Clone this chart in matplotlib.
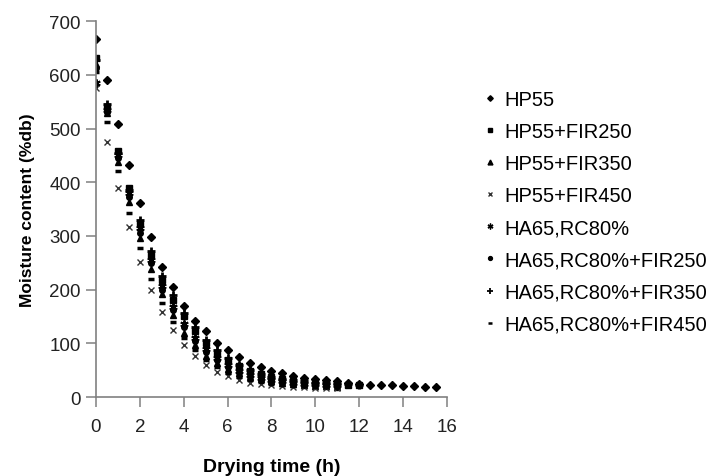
import matplotlib
matplotlib.use("Agg")
import matplotlib.pyplot as plt
import numpy as np

plt.rcParams['font.family'] = ['Liberation Sans', 'DejaVu Sans']

# drying curves, readings every 0.5 h
hp55 = [667, 591, 509, 432, 362, 298, 242, 204, 170, 142, 122, 101, 88, 75, 64, 56,
        49, 44, 39, 36, 34, 32, 30, 26, 24, 23, 23, 22, 20, 20, 19, 19]
hp55_fir250 = [632, 540, 458, 390, 323, 264, 217, 180, 150, 122, 100, 82, 68, 57, 48,
               42, 37, 33, 30, 28, 26, 25, 24, 23, 22]
hp55_fir350 = [620, 528, 437, 364, 297, 239, 191, 153, 120, 96, 77, 64, 53, 45, 38,
               33, 29, 26, 24, 22, 21, 20, 19]
hp55_fir450 = [576, 475, 389, 316, 252, 200, 159, 125, 97, 77, 60, 47, 39, 32, 27,
               24, 22, 20, 19, 18, 17, 17, 16]
ha65 = [585, 535, 450, 380, 315, 255, 207, 168, 136, 110, 89, 72, 59, 49, 41,
        36, 32, 29, 27, 25, 24, 23, 22]
ha65_fir250 = [612, 530, 445, 372, 305, 250, 200, 162, 130, 104, 84, 68, 56, 47, 40,
               35, 31, 28, 26, 24, 23, 22, 21]
ha65_fir350 = [628, 545, 455, 385, 330, 272, 225, 190, 157, 130, 107, 88, 72, 60, 50,
               43, 38, 34, 31, 29, 27, 26, 25, 24, 23]
ha65_fir450 = [605, 512, 420, 343, 277, 219, 176, 140, 110, 87, 69, 55, 45, 37, 32,
               28, 25, 23, 21, 20, 19, 18, 18]

labels = ['HP55', 'HP55+FIR250', 'HP55+FIR350', 'HP55+FIR450', 'HA65,RC80%',
          'HA65,RC80%+FIR250', 'HA65,RC80%+FIR350', 'HA65,RC80%+FIR450']
series = [hp55, hp55_fir250, hp55_fir350, hp55_fir450, ha65,
          ha65_fir250, ha65_fir350, ha65_fir450]
styles = [dict(marker='D', ms=4),
          dict(marker='s', ms=4),
          dict(marker='^', ms=5),
          dict(marker='x', ms=5, mew=1.0, color='#333333'),
          dict(marker=(6, 2, 0), ms=6, mew=1.4),
          dict(marker='o', ms=4),
          dict(marker='+', ms=6, mew=2.0),
          dict(marker='_', ms=5, mew=2.5)]

fig = plt.figure(figsize=(7.09, 4.77), dpi=100)
ax = fig.add_axes([0.1354, 0.1656, 0.495, 0.788])

for y, lab, st in zip(series, labels, styles):
    t = np.arange(len(y)) * 0.5
    kw = dict(color='black', linestyle='none')
    kw.update(st)
    ax.plot(t, y, label=lab, **kw)

ax.set_xlim(0, 16)
ax.set_ylim(0, 700)
ax.set_xticks(range(0, 17, 2))
ax.set_yticks(range(0, 701, 100))
for s in ['top', 'right']:
    ax.spines[s].set_visible(False)
for s in ['left', 'bottom']:
    ax.spines[s].set_color('#808080')
    ax.spines[s].set_linewidth(1.2)
ax.tick_params(direction='out', length=7, width=1.1, color='#808080',
               labelsize=13.5, labelcolor='#222222')
ax.tick_params(axis='x', pad=8)
ax.tick_params(axis='y', pad=4)
ax.set_xlabel('Drying time (h)', fontsize=14, fontweight='bold', labelpad=17)
ax.set_ylabel('Moisture content (%db)', fontsize=12.5, fontweight='bold', labelpad=10)

leg = fig.legend(loc='upper left', bbox_to_anchor=(0.671, 0.826), frameon=False,
                 fontsize=14.5, handlelength=0.6, handletextpad=0.4, labelspacing=0.65,
                 markerscale=0.7, borderaxespad=0)
# thinner strokes so the small legend symbols stay readable
leg.legend_handles[4].set_markeredgewidth(1.0)
leg.legend_handles[6].set_markeredgewidth(1.3)
leg.legend_handles[7].set_markeredgewidth(1.8)

fig.savefig('out.png', dpi=100)
